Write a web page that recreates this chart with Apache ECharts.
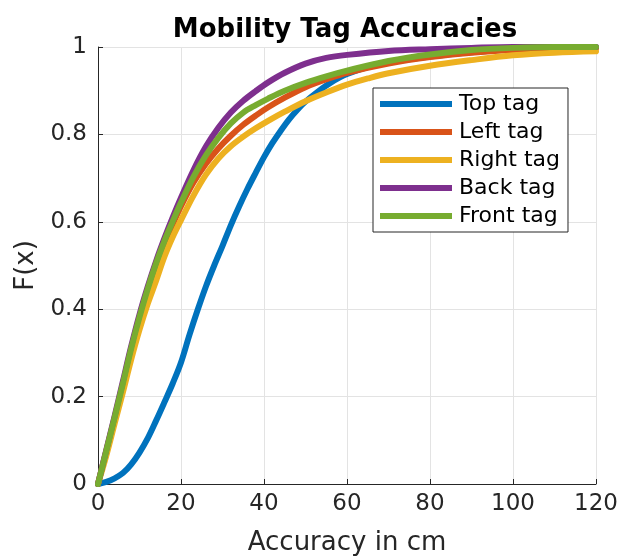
<!DOCTYPE html>
<html>
<head>
<meta charset="utf-8">
<script src="https://cdn.jsdelivr.net/npm/echarts@6/dist/echarts.min.js"></script>
<style>
  html, body { margin: 0; padding: 0; background: #fff; }
  #chart { width: 617px; height: 557px; }
</style>
</head>
<body>
<div id="chart"></div>
<script>
// Empirical CDFs of positioning error (cm) for each mobility tag
const seriesNames = ['Top tag', 'Left tag', 'Right tag', 'Back tag', 'Front tag'];
const seriesColors = ['#0072BD', '#D95319', '#EDB120', '#7E2F8E', '#77AC30'];

const topX = [0, 2, 4, 6, 8, 10, 12, 14, 16, 18, 20, 22, 24, 26, 28, 30, 32, 34, 36, 38, 40, 42, 44, 46, 48, 50, 53, 56, 60, 65, 70, 80, 90, 100, 110, 120];
const topY = [0, 0.005, 0.013, 0.025, 0.045, 0.072, 0.105, 0.145, 0.187, 0.23, 0.278, 0.34, 0.398, 0.452, 0.5, 0.545, 0.592, 0.635, 0.675, 0.712, 0.748, 0.78, 0.808, 0.834, 0.856, 0.875, 0.898, 0.918, 0.938, 0.954, 0.965, 0.978, 0.988, 0.994, 0.997, 0.999];

const leftX = [0, 2, 4, 6, 8, 10, 12, 14, 16, 18, 20, 23, 26, 29, 32, 35, 38, 41, 45, 50, 55, 60, 70, 80, 90, 100, 110, 120];
const leftY = [0, 0.075, 0.15, 0.227, 0.305, 0.375, 0.44, 0.498, 0.549, 0.594, 0.636, 0.69, 0.733, 0.768, 0.797, 0.822, 0.843, 0.862, 0.884, 0.908, 0.926, 0.941, 0.962, 0.977, 0.987, 0.993, 0.996, 0.997];

const rightX = [0, 2, 4, 6, 8, 10, 12, 14, 16, 18, 20, 23, 26, 29, 32, 35, 38, 41, 45, 50, 55, 60, 65, 70, 80, 90, 100, 110, 120];
const rightY = [0, 0.065, 0.138, 0.21, 0.285, 0.353, 0.413, 0.465, 0.52, 0.565, 0.604, 0.66, 0.708, 0.745, 0.773, 0.795, 0.814, 0.831, 0.852, 0.876, 0.896, 0.914, 0.928, 0.94, 0.957, 0.97, 0.981, 0.987, 0.99];

const backX = [0, 2, 4, 6, 8, 10, 12, 14, 16, 18, 20, 23, 26, 29, 32, 35, 38, 41, 45, 50, 55, 60, 70, 80, 90, 100, 120];
const backY = [0, 0.078, 0.155, 0.235, 0.315, 0.388, 0.452, 0.51, 0.562, 0.61, 0.655, 0.718, 0.772, 0.815, 0.85, 0.877, 0.899, 0.919, 0.941, 0.962, 0.975, 0.982, 0.991, 0.995, 0.998, 1, 1];

const frontX = [0, 2, 4, 6, 8, 10, 12, 14, 16, 18, 20, 23, 26, 29, 32, 35, 38, 41, 45, 50, 55, 60, 70, 80, 90, 100, 110, 120];
const frontY = [0, 0.076, 0.152, 0.23, 0.31, 0.382, 0.447, 0.505, 0.556, 0.601, 0.644, 0.703, 0.752, 0.792, 0.825, 0.85, 0.867, 0.882, 0.9, 0.918, 0.933, 0.946, 0.968, 0.983, 0.993, 0.998, 1, 1];

const xTicks = [0, 20, 40, 60, 80, 100, 120];
const yTicks = [0, 0.2, 0.4, 0.6, 0.8, 1];

const allX = [topX, leftX, rightX, backX, frontX];
const allY = [topY, leftY, rightY, backY, frontY];

const FONT = 'DejaVu Sans';
const INK = '#262626';

const chart = echarts.init(document.getElementById('chart'), null, { renderer: 'canvas' });

const series = seriesNames.map((name, i) => ({
  name: name,
  type: 'line',
  data: allX[i].map((x, k) => [x, allY[i][k]]),
  smooth: 0.35,
  showSymbol: false,
  symbol: 'none',
  lineStyle: { width: 6, color: seriesColors[i], cap: 'round', join: 'round' },
  itemStyle: { color: seriesColors[i] },
  z: 2 + i,
  animation: false
}));

chart.setOption({
  animation: false,
  backgroundColor: '#ffffff',
  title: {
    text: 'Mobility Tag Accuracies',
    left: 340,
    textAlign: 'center',
    top: 12,
    textStyle: { fontFamily: FONT, fontSize: 26, fontWeight: 'bold', color: '#000' }
  },
  grid: { left: 98, right: 21, top: 47, bottom: 73, containLabel: false, outerBoundsMode: 'none' },
  legend: {
    orient: 'vertical',
    left: 373,
    top: 88,
    data: seriesNames,
    icon: 'rect',
    itemWidth: 72,
    itemHeight: 6,
    itemGap: 6,
    padding: [5, 8, 5, 7],
    backgroundColor: '#ffffff',
    borderColor: INK,
    borderWidth: 1,
    borderRadius: 0,
    textStyle: { fontFamily: FONT, fontSize: 22, color: '#000', lineHeight: 22, padding: [0, 0, 0, 2] }
  },
  xAxis: {
    type: 'value',
    min: 0,
    max: 120,
    interval: 20,
    name: 'Accuracy in cm',
    nameLocation: 'middle',
    nameGap: 46,
    nameTextStyle: { fontFamily: FONT, fontSize: 26, color: INK },
    axisLine: { show: true, lineStyle: { color: INK, width: 1 } },
    axisTick: { show: true, inside: true, length: 5, lineStyle: { color: INK } },
    axisLabel: {
      fontFamily: FONT, fontSize: 23, color: INK, margin: 9,
      formatter: v => xTicks.includes(v) ? String(v) : ''
    },
    splitLine: { show: true, lineStyle: { color: '#e3e3e3', width: 1 } }
  },
  yAxis: {
    type: 'value',
    min: 0,
    max: 1,
    interval: 0.2,
    name: 'F(x)',
    nameLocation: 'middle',
    nameGap: 59,
    nameRotate: 90,
    nameTextStyle: { fontFamily: FONT, fontSize: 26, color: INK },
    axisLine: { show: true, lineStyle: { color: INK, width: 1 } },
    axisTick: { show: true, inside: true, length: 5, lineStyle: { color: INK } },
    axisLabel: {
      fontFamily: FONT, fontSize: 23, color: INK, margin: 11,
      formatter: v => {
        const t = yTicks.find(y => Math.abs(y - v) < 1e-9);
        return t === undefined ? '' : String(+t.toFixed(1));
      }
    },
    splitLine: { show: true, lineStyle: { color: '#e3e3e3', width: 1 } }
  },
  series: series
});
</script>
</body>
</html>
